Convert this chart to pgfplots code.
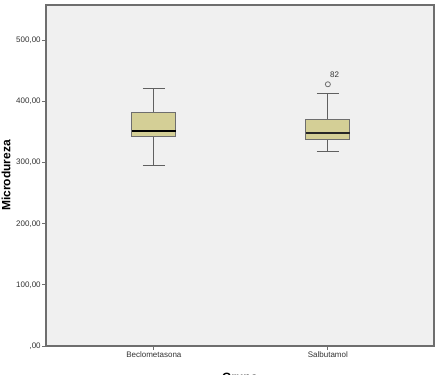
\documentclass[border=0pt]{standalone}
\usepackage{pgfplots}
\pgfplotsset{compat=1.18}
\usepgfplotslibrary{statistics}
\usetikzlibrary{calc}
\usepackage{fontspec}
\setmainfont{Liberation Sans}
\definecolor{boxfill}{RGB}{212,207,150}
\definecolor{plotbg}{RGB}{240,240,240}
\definecolor{frame}{RGB}{110,110,110}
\definecolor{whisk}{RGB}{96,96,96}
\begin{document}
\begin{tikzpicture}
\begin{axis}[
  scale only axis, width=291pt, height=255.75pt,
  xmin=0.38, xmax=2.61, ymin=0, ymax=558,
  boxplot/draw direction=y,
  axis background/.style={fill=plotbg},
  axis line style={frame, line width=0.9pt},
  xtick={1,2}, xticklabels={Beclometasona,Salbutamol},
  ytick={0,100,200,300,400,500},
  yticklabels={{,00},{100,00},{200,00},{300,00},{400,00},{500,00}},
  tick align=outside, xtick pos=bottom, ytick pos=left,
  major tick length=3pt,
  tick style={frame, line width=0.6pt},
  ticklabel style={font=\fontsize{6}{7}\selectfont, text=black!80},
  yticklabel style={inner sep=0.8pt},
  xticklabel style={inner sep=1pt},
  title={Momento: Falas},
  title style={at={(axis description cs:0.443,1)}, anchor=base, yshift=0.9pt, font=\bfseries\fontsize{7.5}{8}\selectfont},
  xlabel={Grupo},
  every axis x label/.style={at={(axis description cs:0.5,-0.0782)}, anchor=north, inner sep=0pt, font=\bfseries\fontsize{9}{10}\selectfont},
  ylabel={Microdureza},
  every axis y label/.style={at={(axis description cs:-0.1031,0.5)}, rotate=90, anchor=center, inner sep=0pt, font=\bfseries\fontsize{9}{10}\selectfont},
  clip=false,
]
\addplot[boxplot prepared={draw position=1, lower whisker=295.7, lower quartile=342.7, median=351.4, upper quartile=382, upper whisker=422, box extend=0.253, whisker extend=0.126},
  draw=frame, fill=boxfill, line width=0.6pt,
  boxplot/every median/.style={draw=black, line width=1.6pt},
  boxplot/every whisker/.style={draw=whisk, line width=0.8pt}] coordinates {};
\addplot[boxplot prepared={draw position=2, lower whisker=318.6, lower quartile=338.3, median=348.6, upper quartile=370.5, upper whisker=413, box extend=0.253, whisker extend=0.126},
  draw=frame, fill=boxfill, line width=0.6pt,
  boxplot/every median/.style={draw=black!85, line width=1pt},
  boxplot/every whisker/.style={draw=whisk, line width=0.8pt}] coordinates {};
\addplot[only marks, mark=o, mark size=1.9pt, draw=frame, mark options={line width=0.6pt},
  nodes near coords={82},
  every node near coord/.append style={anchor=center, xshift=5pt, yshift=7pt, font=\fontsize{6}{7}\selectfont, text=black!80}] coordinates {(2,428.3)};
\end{axis}
\pgfresetboundingbox
\path[use as bounding box] ($(current axis.south west)+(-34.5pt,-21.75pt)$) rectangle ($(current axis.north east)+(2.25pt,3.75pt)$);
\end{tikzpicture}
\end{document}
